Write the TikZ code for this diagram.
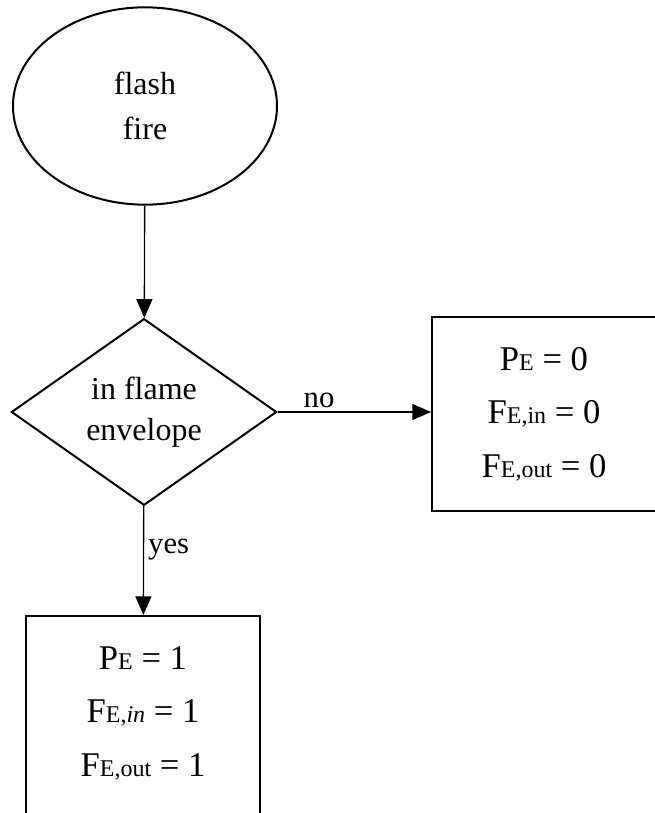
\documentclass[tikz,border=0pt]{standalone}
\usepackage{fontspec}
\setmainfont{Liberation Serif}
\usetikzlibrary{arrows.meta,shapes.geometric}

\newcommand\lowsub[1]{{\fontsize{18}{18}\selectfont #1}}

\begin{document}
\begin{tikzpicture}[x=0.75pt, y=-0.75pt,
    every node/.style={font=\fontsize{24}{31}\selectfont},
    ev/.style={ellipse, draw, line width=1.5pt, minimum width=198pt,
               minimum height=148pt, align=center, font=\fontsize{24}{34}\selectfont},
    dc/.style={diamond, draw, line width=1.5pt, minimum width=199pt,
               minimum height=140pt, inner sep=0pt, align=center},
    res/.style={rectangle, draw, line width=1.5pt, align=center,
                font=\fontsize{26}{40}\selectfont},
    e/.style={line width=1pt, -{Triangle[length=14pt, width=12pt]}},
    lbl/.style={font=\fontsize{23}{26}\selectfont, inner sep=3pt},
  ]
  \useasboundingbox (0,0) rectangle (654,813);
  \node[ev] (fire) at (145, 106) {flash\\fire};
  \node[dc] (env) at (144, 412) {in flame\\envelope};
  \node[res, minimum width=168pt, minimum height=145pt] (p0) at (544, 414)
    {P\lowsub{E} = 0\\F\lowsub{E,in} = 0\\F\lowsub{E,out} = 0};
  \node[res, minimum width=176pt, minimum height=161pt, anchor=north,
        text depth=18pt] (p1) at (143, 615)
    {P\lowsub{E} = 1\\F\lowsub{E,\textit{in}} = 1\\F\lowsub{E,out} = 1};
  \draw[e] (fire) -- (env);
  \draw[e] (env.east) -- node[lbl, above, pos=0.27] {no} (env.east -| p0.west);
  \draw[e] (env) -- node[lbl, right, pos=0.4] {yes} (p1);
\end{tikzpicture}
\end{document}
